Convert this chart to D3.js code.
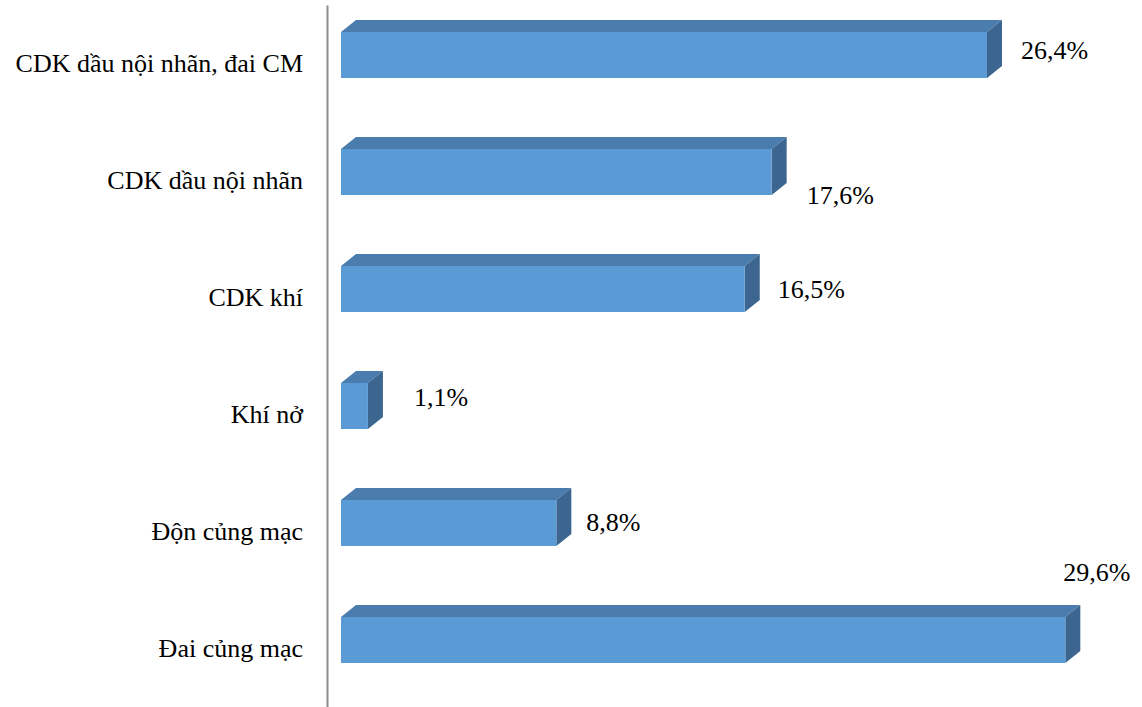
<!DOCTYPE html>
<html>
<head>
<meta charset="utf-8">
<script src="https://cdn.jsdelivr.net/npm/d3@7"></script>
</head>
<body style="margin:0">
<svg id="chart" width="1142" height="707" style="display:block" font-family="Times New Roman, Liberation Serif, serif"></svg>
<script>
// Categories, top to bottom
const categories = [
  "CDK dầu nội nhãn, đai CM",
  "CDK dầu nội nhãn",
  "CDK khí",
  "Khí nở",
  "Độn củng mạc",
  "Đai củng mạc"
];
// Share of cases, percent
const values = [26.4, 17.6, 16.5, 1.1, 8.8, 29.6];
// Value label text (comma decimal)
const valueLabels = ["26,4%", "17,6%", "16,5%", "1,1%", "8,8%", "29,6%"];

const FONT = "Times New Roman, Liberation Serif, serif";
const FS = 26;

const svg = d3.select("#chart");

const axisX = 327;
const x = d3.scaleLinear().domain([0, 30]).range([341, 341 + 30 * 24.47]);
const y = d3.scaleBand().domain(categories).range([5, 707])
  .paddingInner(0.6068).paddingOuter(0.6068 / 2);

// 3D extrusion of each bar
const depth = { dx: 15, dy: 12 };
const lift = 8.5; // front face sits above the category centre
const bh = y.bandwidth();

const colFront = "#5B9BD5", colTop = "#4A7CAD", colSide = "#3C6690";

const bars = svg.append("g").selectAll("g").data(categories).join("g");

bars.each(function(c, i) {
  const g = d3.select(this);
  const x0 = x(0), x1 = x(values[i]);
  const yt = y(c) - lift, yb = yt + bh;
  // top face
  g.append("path")
    .attr("d", `M${x0},${yt}L${x0 + depth.dx},${yt - depth.dy}L${x1 + depth.dx},${yt - depth.dy}L${x1},${yt}Z`)
    .attr("fill", colTop);
  // side face
  g.append("path")
    .attr("d", `M${x1},${yt}L${x1 + depth.dx},${yt - depth.dy}L${x1 + depth.dx},${yb - depth.dy}L${x1},${yb}Z`)
    .attr("fill", colSide);
  // front face
  g.append("rect")
    .attr("x", x0).attr("y", yt)
    .attr("width", x1 - x0).attr("height", bh)
    .attr("fill", colFront);
});

// Value labels, placed beside each bar end
const labelOffsets = [[34, -5], [35, 23], [33, 0], [46, -9], [30, -1], [-2, -68]];
svg.append("g").selectAll("text").data(categories).join("text")
  .attr("x", (c, i) => x(values[i]) + labelOffsets[i][0])
  .attr("y", (c, i) => y(c) - lift + bh / 2 + labelOffsets[i][1] + 9)
  .attr("font-family", FONT)
  .attr("font-size", FS)
  .attr("fill", "#000")
  .text((c, i) => valueLabels[i]);

// Category axis
const axis = d3.axisLeft(y).tickSize(0).tickSizeOuter(0).tickPadding(24);
const ag = svg.append("g").attr("transform", `translate(${axisX},0)`).call(axis);
ag.attr("font-family", FONT).attr("font-size", FS);
ag.select(".domain").attr("stroke", "#8c8c8c").attr("stroke-width", 2);
ag.selectAll(".tick text").attr("fill", "#000").attr("font-family", FONT);
</script>
</body>
</html>
